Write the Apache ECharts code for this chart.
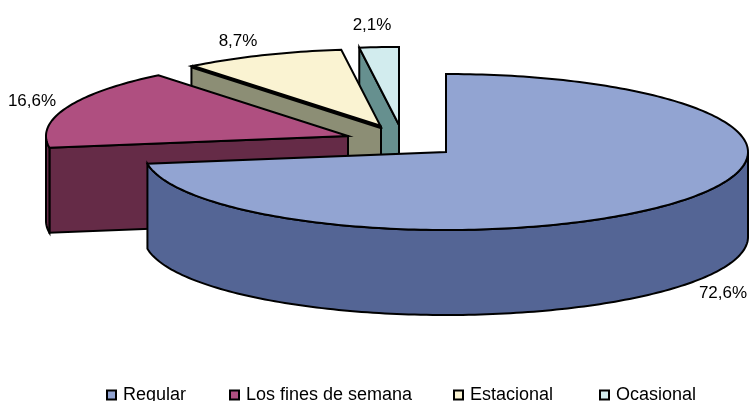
<!DOCTYPE html>
<html><head><meta charset="utf-8">
<style>html,body{margin:0;padding:0;background:#fff}#c{width:749px;height:401px}</style>
<script src="https://cdn.jsdelivr.net/npm/echarts@6/dist/echarts.min.js"></script>
</head><body><div id="c"></div>
<script>
const categories = ['Regular', 'Los fines de semana', 'Estacional', 'Ocasional'];
const shares = [72.6, 16.6, 8.7, 2.1];
const labelsText = ['72,6%', '16,6%', '8,7%', '2,1%'];
const topColors = ['#92A4D2', '#AF4F80', '#FAF3D2', '#D2ECEE'];
const sideColors = ['#546595', '#652B47', '#8C8E75', '#66908F'];
const apexes = [[446, 152], [348, 136], [381, 127], [399, 125]];
const labelAnchors = [[723, 293], [32, 101], [238, 41], [372, 25]];
const legendLefts = [106, 229, 453, 599];
const cutEdgeWidths = [2, 2, 4, 2];

const RX = 302, RY = 78, DEPTH = 85;
const total = shares.reduce((a, b) => a + b, 0);
const starts = [];
shares.reduce((acc, v, i) => { starts[i] = acc; return acc + v; }, 0);

function pt(a, t) { return [a[0] + RX * Math.sin(t), a[1] - RY * Math.cos(t)]; }
function arc(a, t0, t1) {
  const n = Math.max(2, Math.ceil(Math.abs(t1 - t0) / 0.02)), out = [];
  for (let k = 0; k <= n; k++) out.push(pt(a, t0 + (t1 - t0) * k / n));
  return out;
}
const down = p => [p[0], p[1] + DEPTH];
const edge = { stroke: '#000', lineWidth: 2, lineJoin: 'miter' };

function renderSlice(idx) {
  return function (params, api) {
    const v = api.value(0);
    const a = apexes[idx];
    const t0 = starts[idx] / total * 2 * Math.PI;
    const t1 = t0 + v / total * 2 * Math.PI;
    const kids = [];
    const poly = (pts, fill) => kids.push({ type: 'polygon', shape: { points: pts }, style: Object.assign({ fill }, edge) });
    const side = sideColors[idx];
    const cut = pt(a, t0);
    // radial face at the slice's starting cut, visible for the exploded slices
    if (idx > 0) poly([a, cut, down(cut), down(a)], side);
    // outer rim walls on the front half of the ellipse
    const q = Math.PI / 2, tq = 3 * q;
    const w0 = Math.max(t0, q), w1 = Math.min(t1, tq);
    if (w1 > w0) {
      const up = arc(a, w0, w1);
      poly(up.concat(up.map(down).reverse()), side);
    }
    poly([a].concat(arc(a, t0, t1)), topColors[idx]);
    if (cutEdgeWidths[idx] > 2) {
      kids.push({ type: 'polyline', shape: { points: [cut, a] }, style: { stroke: '#000', fill: null, lineWidth: cutEdgeWidths[idx] } });
    }
    return { type: 'group', children: kids };
  };
}

const series = categories.map((name, i) => ({
  type: 'custom',
  name,
  coordinateSystem: 'none',
  z: 10 - i,
  silent: true,
  itemStyle: { color: topColors[i], borderColor: '#000', borderWidth: 2 },
  renderItem: renderSlice(i),
  data: [[shares[i]]],
  animation: false
}));

const chart = echarts.init(document.getElementById('c'), null, { renderer: 'canvas' });
chart.setOption({
  animation: false,
  backgroundColor: '#fff',
  legend: categories.map((name, i) => ({
    data: [name],
    left: legendLefts[i], top: 386,
    padding: 0,
    itemWidth: 9, itemHeight: 9,
    icon: 'rect',
    itemStyle: { borderColor: '#000', borderWidth: 2 },
    textStyle: { fontFamily: 'Liberation Sans', fontSize: 18, color: '#000', padding: [0, 0, 0, 2] },
    selectedMode: false
  })),
  graphic: labelsText.map((t, i) => ({
    type: 'text', x: labelAnchors[i][0], y: labelAnchors[i][1], z: 100,
    style: { text: t, fontFamily: 'Liberation Sans', fontSize: 17, fill: '#000', align: 'center', verticalAlign: 'middle' }
  })),
  series
});
</script></body></html>
